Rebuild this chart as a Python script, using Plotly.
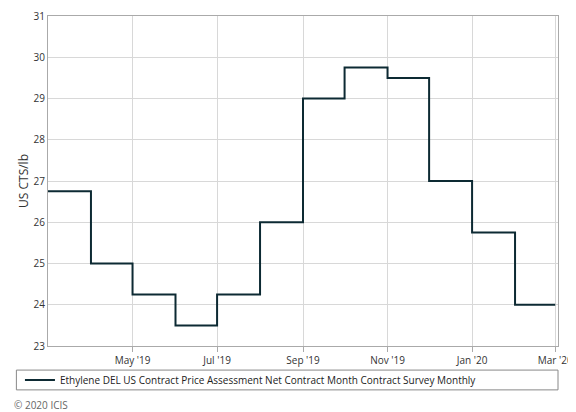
import plotly.graph_objects as go

months = ["2019-03-01", "2019-04-01", "2019-05-01", "2019-06-01", "2019-07-01", "2019-08-01",
          "2019-09-01", "2019-10-01", "2019-11-01", "2019-12-01", "2020-01-01", "2020-02-01",
          "2020-03-01"]
prices = [26.75, 25.0, 24.25, 23.5, 24.25, 26.0, 29.0, 29.75, 29.5, 27.0, 25.75, 24.0, 24.0]
tick_dates = ["2019-05-01", "2019-07-01", "2019-09-01", "2019-11-01", "2020-01-01", "2020-03-01"]
tick_labels = ["May '19", "Jul '19", "Sep '19", "Nov '19", "Jan '20", "Mar '20"]

fig = go.Figure()
fig.add_trace(go.Scatter(x=months, y=prices, mode="lines", line_shape="hv",
                         line=dict(color="#0d2a33", width=2),
                         name="Ethylene DEL US Contract Price Assessment Net Contract Month Contract Survey Monthly"))

fig.update_layout(
    width=576, height=412, plot_bgcolor="white", paper_bgcolor="white",
    margin=dict(l=40, r=26, t=8, b=74, autoexpand=False),
    font=dict(family="Open Sans", size=10, color="#333333"),
    showlegend=True,
    legend=dict(orientation="h", x=-0.055, xanchor="left", y=-0.103, yanchor="middle",
                borderwidth=0, bgcolor="rgba(0,0,0,0)", font=dict(size=10, color="#222222")),
    shapes=[dict(type="rect", xref="paper", yref="paper", x0=-0.062, x1=1.0, y0=-0.133, y1=-0.073,
                 line=dict(color="#888888", width=1))],
    annotations=[dict(text="© 2020 ICIS", xref="paper", yref="paper", x=-0.07, y=-0.18,
                      xanchor="left", yanchor="middle", showarrow=False,
                      font=dict(size=10, color="#666666"))],
)
fig.update_xaxes(range=["2019-03-01", "2020-03-03"], tickvals=tick_dates, ticktext=tick_labels,
                 showgrid=True, gridcolor="#d8d8d8", showline=True, linecolor="#aaaaaa",
                 mirror=True, ticks="outside", tickcolor="#aaaaaa", ticklen=5, automargin=False)
fig.update_yaxes(range=[23, 31], dtick=1, title=dict(text="US CTS/lb", standoff=2),
                 showgrid=True, gridcolor="#d8d8d8", showline=True, linecolor="#aaaaaa",
                 mirror=True, zeroline=False, automargin=False)

fig.write_html("out.html")
